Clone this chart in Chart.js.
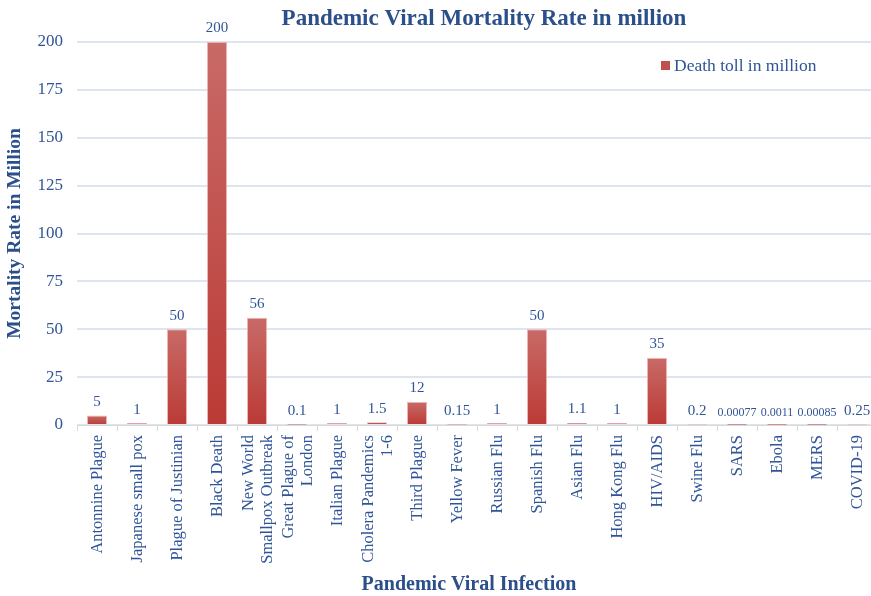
<!DOCTYPE html>
<html>
<head>
<meta charset="utf-8">
<script src="https://cdn.jsdelivr.net/npm/chart.js@4"></script>
<style>
  html, body { margin: 0; padding: 0; overflow: hidden; background: #ffffff; }
  #wrap { width: 968px; height: 596px; }
</style>
</head>
<body>
<div id="wrap"><canvas id="chart" width="968" height="596"></canvas></div>
<script>
// Pandemics and their estimated death toll (millions)
const pandemics = [
  'Antonnine Plague', 'Japanese small pox', 'Plague of Justinian', 'Black Death',
  ['New World', 'Smallpox Outbreak'], ['Great Plague of', 'London'], 'Italian Plague',
  ['Cholera Pandemics', '1-6'], 'Third Plague', 'Yellow Fever', 'Russian Flu',
  'Spanish Flu', 'Asian Flu', 'Hong Kong Flu', 'HIV/AIDS', 'Swine Flu', 'SARS',
  'Ebola', 'MERS', 'COVID-19'
];
const deathToll = [5, 1, 50, 200, 56, 0.1, 1, 1.5, 12, 0.15, 1, 50, 1.1, 1, 35, 0.2, 0.00077, 0.0011, 0.00085, 0.25];
const yTicks = [0, 25, 50, 75, 100, 125, 150, 175, 200];
const chartTitle = 'Pandemic Viral Mortality Rate in million';
const xAxisTitle = 'Pandemic Viral Infection';

const SERIF = '"Liberation Serif", "DejaVu Serif", serif';
const TEXT = '#2f5597';
const TITLE = '#2b4f8a';

// Per-bar vertical gradient, lighter at the top
function barFill(ctx) {
  const chart = ctx.chart;
  if (!chart.chartArea || ctx.type !== 'data') return '#c0504d';
  const y = chart.scales.y;
  const top = y.getPixelForValue(ctx.raw);
  const base = y.getPixelForValue(0);
  if (!isFinite(top) || Math.abs(base - top) < 1) return '#c0504d';
  const g = chart.ctx.createLinearGradient(0, top, 0, base);
  g.addColorStop(0, '#c86a67');
  g.addColorStop(1, '#bb3a35');
  return g;
}

// Value labels above each bar
const valueLabels = {
  id: 'valueLabels',
  afterDatasetsDraw(chart) {
    const ctx = chart.ctx;
    const meta = chart.getDatasetMeta(0);
    const data = chart.data.datasets[0].data;
    ctx.save();
    ctx.fillStyle = TEXT;
    ctx.textAlign = 'center';
    ctx.textBaseline = 'bottom';
    meta.data.forEach((bar, i) => {
      const v = data[i];
      const size = v < 0.01 ? 12 : 15;
      ctx.font = size + 'px ' + SERIF;
      ctx.fillText(String(v), bar.x, bar.y - 6);
    });
    ctx.restore();
  }
};

// Vertical category labels, multi-line ones centred on their tick
const categoryLabels = {
  id: 'categoryLabels',
  afterDraw(chart) {
    const ctx = chart.ctx;
    const xs = chart.scales.x;
    const lineH = 19;
    ctx.save();
    ctx.fillStyle = TEXT;
    ctx.font = '16.5px ' + SERIF;
    ctx.textAlign = 'right';
    ctx.textBaseline = 'middle';
    chart.data.labels.forEach((lab, i) => {
      const lines = Array.isArray(lab) ? lab : [lab];
      const x = xs.getPixelForTick(i);
      lines.forEach((ln, j) => {
        const off = (j - (lines.length - 1) / 2) * lineH;
        ctx.save();
        ctx.translate(x + off + 1, xs.top + 10);
        ctx.rotate(-Math.PI / 2);
        ctx.fillText(ln, 0, 0);
        ctx.restore();
      });
    });

    // horizontal axis title
    ctx.fillStyle = TITLE;
    ctx.font = 'bold 20px ' + SERIF;
    ctx.textAlign = 'center';
    ctx.fillText(xAxisTitle, 469, 585);
    ctx.restore();
  }
};

// Chart title and legend drawn at fixed places over the plot
const titleAndLegend = {
  id: 'titleAndLegend',
  afterDraw(chart) {
    const ctx = chart.ctx;
    const area = chart.chartArea;
    ctx.save();
    ctx.fillStyle = TITLE;
    ctx.font = 'bold 23px ' + SERIF;
    ctx.textAlign = 'center';
    ctx.textBaseline = 'middle';
    ctx.fillText(chartTitle, 484, 19);

    const label = chart.data.datasets[0].label;
    const x = area.left + 584;
    const y = area.top + 24;
    ctx.fillStyle = '#c0504d';
    ctx.fillRect(x, y - 5, 9, 9);
    ctx.fillStyle = TEXT;
    ctx.font = '17.5px ' + SERIF;
    ctx.textAlign = 'left';
    ctx.fillText(label, x + 13, y);
    ctx.restore();
  }
};

new Chart(document.getElementById('chart'), {
  type: 'bar',
  data: {
    labels: pandemics,
    datasets: [{
      label: 'Death toll in million',
      data: deathToll,
      backgroundColor: barFill,
      borderColor: 'rgba(236,170,168,0.9)',
      borderWidth: 1,
      barPercentage: 0.5,
      categoryPercentage: 1.0
    }]
  },
  options: {
    responsive: false,
    animation: false,
    layout: { padding: { left: 0, right: 91, top: 42, bottom: 0 } },
    plugins: {
      legend: { display: false },
      tooltip: { enabled: false },
      title: { display: false }
    },
    scales: {
      x: {
        afterFit(scale) { scale.height = 171; },
        grid: {
          display: true,
          drawOnChartArea: false,
          drawTicks: true,
          tickLength: 6,
          color: '#d9d9d9',
          offset: true
        },
        border: { display: true, color: '#d9d9d9', width: 1 },
        ticks: { display: false, autoSkip: false },
        title: { display: false }
      },
      y: {
        min: 0,
        max: 200,
        afterFit(scale) { scale.width = 77; },
        afterBuildTicks(scale) { scale.ticks = yTicks.map(v => ({ value: v })); },
        grid: { color: '#dfe5ef', lineWidth: 2, drawTicks: false },
        border: { display: false },
        ticks: {
          color: TEXT,
          font: { family: SERIF, size: 17 },
          padding: 14
        },
        title: {
          display: true,
          text: 'Mortality Rate in Million',
          color: TITLE,
          font: { family: SERIF, size: 19.5, weight: 'bold' },
          padding: { top: 3, bottom: 0 }
        }
      }
    }
  },
  plugins: [valueLabels, categoryLabels, titleAndLegend]
});
</script>
</body>
</html>
